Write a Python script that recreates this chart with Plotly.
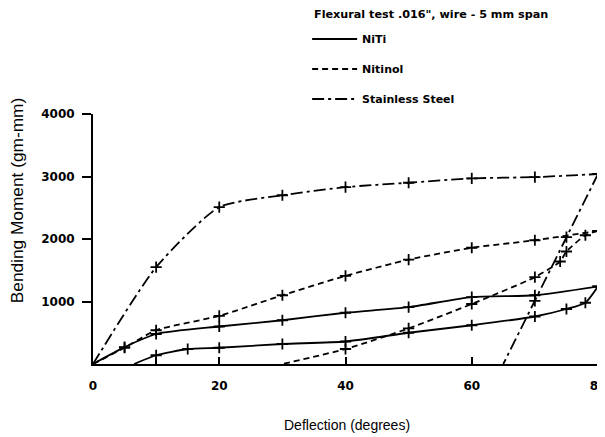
import plotly.graph_objects as go

# ---- data ----
niti_load_x = [0, 5, 10, 20, 30, 40, 50, 60, 70, 80]
niti_load_y = [0, 270, 480, 600, 700, 820, 910, 1070, 1100, 1240]
niti_unload_x = [80, 78, 75, 70, 60, 50, 40, 30, 20, 15, 10, 6.5]
niti_unload_y = [1240, 980, 880, 760, 620, 500, 360, 320, 260, 240, 140, 0]

nitinol_load_x = [0, 5, 10, 20, 30, 40, 50, 60, 70, 80]
nitinol_load_y = [0, 260, 540, 770, 1100, 1410, 1670, 1860, 1980, 2130]
nitinol_unload_x = [80, 78, 75, 74, 70, 60, 50, 40, 30]
nitinol_unload_y = [2130, 2060, 1800, 1640, 1390, 960, 570, 240, 0]

steel_load_x = [0, 10, 20, 30, 40, 50, 60, 70, 80]
steel_load_y = [0, 1550, 2510, 2700, 2830, 2900, 2970, 2990, 3040]
steel_unload_x = [80, 75, 70, 65]
steel_unload_y = [3040, 2030, 1010, 0]

x_tick_vals = [0, 10, 20, 40, 60, 80]
x_tick_text = ["0", "", "20", "40", "60", "80"]
y_tick_vals = [1000, 2000, 3000, 4000]
y_tick_text = ["1000", "2000", "3000", "4000"]

series = [
    ("NiTi", niti_load_x, niti_load_y, niti_unload_x, niti_unload_y, "solid"),
    ("Nitinol", nitinol_load_x, nitinol_load_y, nitinol_unload_x, nitinol_unload_y, "6px,4px"),
    ("Stainless Steel", steel_load_x, steel_load_y, steel_unload_x, steel_unload_y, "12px,4px,3px,4px"),
]

fig = go.Figure()
BOLD = dict(family="DejaVu Sans", color="black", weight="bold")
SANS = "Liberation Sans, Arial, sans-serif"

for name, lx, ly, ux, uy, dash in series:
    line = dict(color="black", width=1.8, dash=dash, shape="spline", smoothing=0.6)
    fig.add_trace(go.Scatter(x=lx, y=ly, mode="lines", name=name, legendgroup=name,
                             line=line, showlegend=True))
    uline = dict(line)
    if name == "Stainless Steel":
        uline["shape"] = "linear"
    fig.add_trace(go.Scatter(x=ux, y=uy, mode="lines", name=name, legendgroup=name,
                             line=uline, showlegend=False))
    mx = [x for x, y in zip(lx + ux, ly + uy) if y > 0]
    my = [y for y in ly + uy if y > 0]
    fig.add_trace(go.Scatter(x=mx, y=my, mode="markers", showlegend=False, cliponaxis=False,
                             marker=dict(symbol="cross-thin", size=8,
                                         line=dict(color="black", width=1.8)),
                             hoverinfo="skip"))

# the page body has an 8px default margin, so the figure is 8px smaller each way
fig.update_layout(
    width=597, height=429,
    margin=dict(l=85, r=7, t=106, b=73),
    plot_bgcolor="white", paper_bgcolor="white",
    font=dict(family="DejaVu Sans", color="black"),
    legend=dict(
        x=0.424, y=1.358, xanchor="left", yanchor="top",
        font=dict(size=11, **BOLD),
        traceorder="grouped", tracegroupgap=11, itemwidth=45,
        bgcolor="rgba(0,0,0,0)",
    ),
    xaxis=dict(range=[0, 80], tickvals=x_tick_vals, ticktext=x_tick_text,
               ticks="inside", ticklen=7, tickwidth=1.5, tickcolor="black",
               showline=True, linewidth=2, linecolor="black",
               showgrid=False, zeroline=False, ticklabelstandoff=10,
               ticklabeloverflow="allow", automargin=False,
               tickfont=dict(size=12, **BOLD)),
    yaxis=dict(range=[0, 4000], tickvals=y_tick_vals, ticktext=y_tick_text,
               ticks="outside", ticklen=9, tickwidth=1.5, tickcolor="black",
               showline=True, linewidth=2, linecolor="black",
               showgrid=False, zeroline=False, ticklabelstandoff=5,
               automargin=False,
               tickfont=dict(size=12, **BOLD)),
    annotations=[
        dict(text="Flexural test .016\", wire - 5 mm span", xref="paper", yref="paper",
             x=0.434, y=1.4, showarrow=False, xanchor="left", yanchor="middle",
             font=dict(size=11.2, **BOLD)),
        dict(text="Deflection (degrees)", xref="paper", yref="paper",
             x=0.503, y=-0.244, showarrow=False, xanchor="center", yanchor="middle",
             font=dict(family=SANS, size=14, color="black")),
        dict(text="Bending Moment (gm-mm)", xref="paper", yref="paper",
             x=-0.15, y=0.656, showarrow=False, textangle=-90, xanchor="center", yanchor="middle",
             font=dict(family=SANS, size=17.3, color="black")),
    ],
)

fig.write_html("out.html")
